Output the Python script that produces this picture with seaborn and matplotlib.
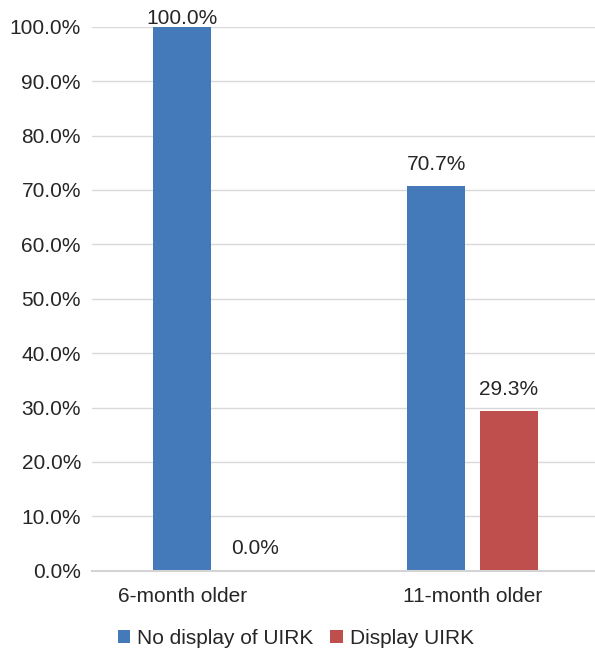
import matplotlib
matplotlib.use("Agg")
import matplotlib.pyplot as plt
import matplotlib.transforms as mtransforms
import pandas as pd
import seaborn as sns

# Share of children per age group, by UIRK behaviour (percent)
groups = ["6-month older", "11-month older"]
series = ["No display of UIRK", "Display UIRK"]
no_display = [100.0, 70.7]
display = [0.0, 29.3]
y_ticks = [0, 10, 20, 30, 40, 50, 60, 70, 80, 90, 100]
colors = ["#4479BA", "#BE4F4D"]

df = pd.DataFrame({
    "group": groups * 2,
    "series": [series[0]] * len(groups) + [series[1]] * len(groups),
    "value": no_display + display,
})

sns.set_theme(style="white")
plt.rcParams["font.family"] = ["Liberation Sans", "DejaVu Sans"]
text_color = "#262626"
fs = 15

fig = plt.figure(figsize=(5.95, 6.52), dpi=100)
ax = fig.add_axes([0.1541, 0.1247, 0.8459, 0.9590 - 0.1247])

sns.barplot(data=df, x="group", y="value", hue="series", order=groups,
            hue_order=series, palette=colors, width=0.57, gap=0.2,
            saturation=1, linewidth=0, ax=ax, legend=False)

ax.set_ylim(0, 100)
ax.set_xlim(-0.5, 1.483)
ax.set_yticks(y_ticks)
ax.set_yticklabels([f"{t:.1f}%" for t in y_ticks])
ax.set_xlabel("")
ax.set_ylabel("")

ax.yaxis.grid(True, color="#D9D9D9", linewidth=1.0)
ax.set_axisbelow(True)
for side in ["left", "right", "top"]:
    ax.spines[side].set_visible(False)
ax.spines["bottom"].set_color("#D4D4D4")
ax.spines["bottom"].set_linewidth(1.5)

ax.tick_params(axis="y", length=0, pad=7.7, labelsize=fs, labelcolor=text_color)
ax.tick_params(axis="x", length=0, pad=12, labelsize=fs, labelcolor=text_color)

# first category label sits under its first bar
first = ax.get_xticklabels()[0]
first.set_transform(first.get_transform()
                    + mtransforms.ScaledTranslation(-0.356, 0, fig.dpi_scale_trans))

# value labels above each bar
for container in ax.containers:
    vals = [b.get_height() for b in container]
    anns = ax.bar_label(container, labels=[f"{v:.1f}%" for v in vals],
                        padding=8.8, fontsize=fs, color=text_color)
    for ann, v in zip(anns, vals):
        ann.set_clip_on(False)
        if v >= 95:
            ann.xyann = (0, -0.7)

handles = [plt.Rectangle((0, 0), 1, 1, facecolor=c, edgecolor="none") for c in colors]
fig.legend(handles, series, loc="center", bbox_to_anchor=(0.497, 13.5 / 652),
           ncol=2, frameon=False, fontsize=fs, labelcolor=text_color,
           handlelength=0.6, handleheight=0.6, handletextpad=0.33,
           columnspacing=0.8, borderpad=0)

fig.savefig("out.png", dpi=100)
